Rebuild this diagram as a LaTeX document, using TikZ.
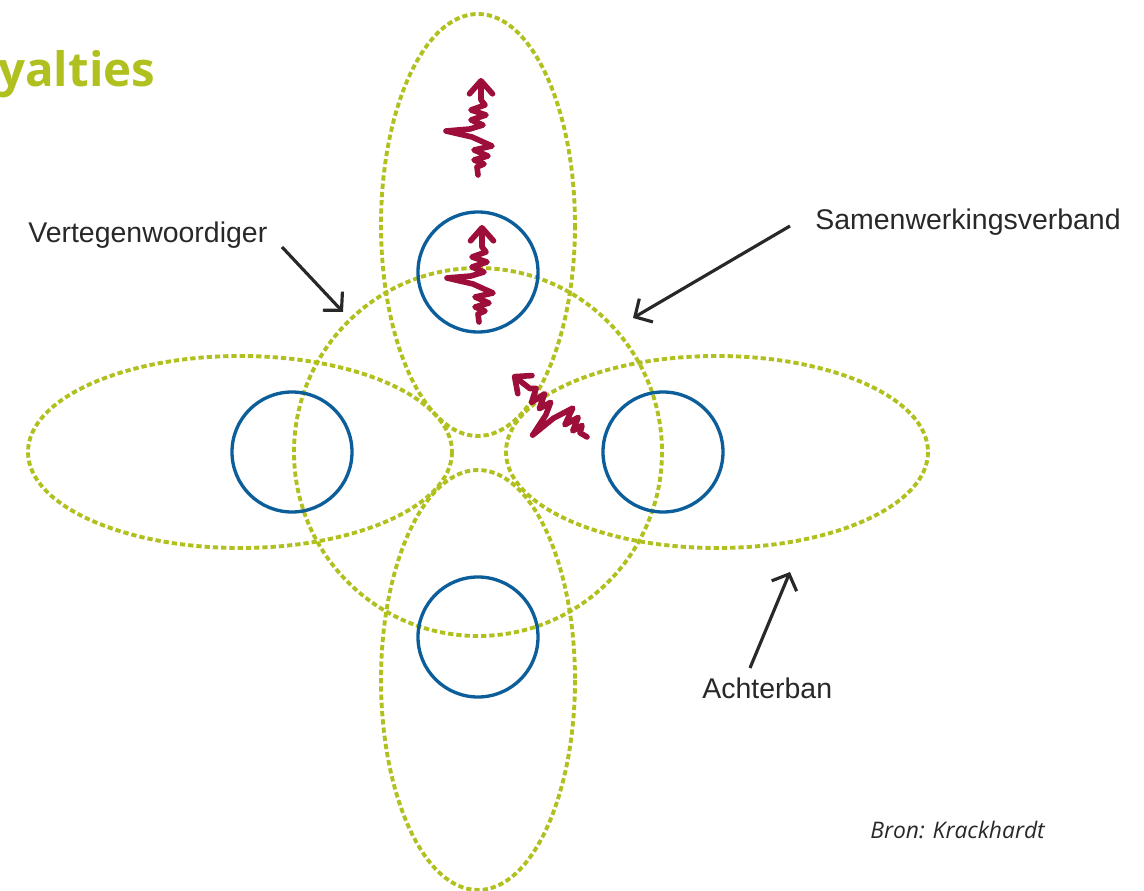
\documentclass[tikz,border=0pt]{standalone}
\usepackage{fontspec}
\setmainfont{Liberation Sans}
\newfontfamily\titlefont{Open Sans}
\usetikzlibrary{arrows.meta}

\definecolor{loyalgreen}{RGB}{176,192,30}
\definecolor{loyalblue}{RGB}{12,94,155}
\definecolor{loyalred}{RGB}{158,14,58}
\definecolor{labelgray}{RGB}{40,40,40}

\begin{document}
\begin{tikzpicture}
[
	x=0.02cm, y=-0.02cm,
	group/.style={loyalgreen,line width=2.2pt,dash pattern=on 3pt off 1.7pt},
	member/.style={loyalblue,line width=1.9pt},
	pointer/.style={labelgray,line width=1.8pt,-{Straight Barb[length=2.6mm,width=5.4mm]}},
	lbl/.style={labelgray,font=\fontsize{16.2}{19}\selectfont,inner sep=0pt,anchor=base west},
	wiggle/.style={loyalred,line width=3.2pt,line cap=round,line join=round},
	zigzag/.pic={
		\draw[wiggle,-{Straight Barb[length=2.6mm,width=4.6mm,round]}]
			(0,0) -- (-1,-8) -- (6,-11) -- (-4,-15) -- (10,-19) -- (-4,-25) -- (14,-29)
			-- (-6,-38) -- (-32,-44) -- (-8,-46) -- (5,-50) -- (-7,-55) -- (8,-60)
			-- (-7,-65) -- (7,-70) -- (3,-75) -- (3,-97);
	}
]
	\useasboundingbox (0,0) rectangle (1144,891);

	% title
	\node[loyalgreen,inner sep=0pt,anchor=base west,font=\titlefont\bfseries\fontsize{27}{30}\selectfont] (title) at (-2,87) {yalties};

	% groups
	\draw[group] (478,452) circle[radius=184];
	\draw[group] (478,225) ellipse[x radius=97,y radius=211];
	\draw[group] (478,680) ellipse[x radius=97,y radius=210];
	\draw[group] (240,452) ellipse[x radius=212,y radius=96];
	\draw[group] (717,452) ellipse[x radius=211,y radius=96];

	% members
	\foreach \cx/\cy in {478/272,292/452,663/452,478/637} {
		\draw[member] (\cx,\cy) circle[radius=60];
	}

	% tension
	\pic at (478,175) {zigzag};
	\pic at (479,322) {zigzag};
	\pic[rotate=52] at (587,437) {zigzag};

	% labels
	\node[lbl] (vert) at (28,243) {Vertegenwoordiger};
	\node[lbl] (samen) at (815,230) {Samenwerkingsverband};
	\node[lbl] (achter) at (702,699) {Achterban};
	\node[labelgray,inner sep=0pt,anchor=base west,font=\titlefont\itshape\fontsize{13}{15}\selectfont] (bron) at (870,839) {Bron: Krackhardt};

	% arrows
	\coordinate (verttail) at (282,247);
	\coordinate (verttip) at (343,312);
	\coordinate (samentail) at (790,226);
	\coordinate (samentip) at (633,318);
	\coordinate (achtertail) at (750,668);
	\coordinate (achtertip) at (790,572);
	\draw[pointer] (verttail) -- (verttip);
	\draw[pointer] (samentail) -- (samentip);
	\draw[pointer] (achtertail) -- (achtertip);

\end{tikzpicture}
\end{document}
